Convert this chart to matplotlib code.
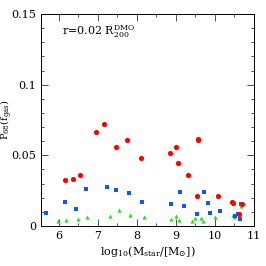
import matplotlib
matplotlib.use("Agg")
import matplotlib.pyplot as plt
from matplotlib.ticker import MultipleLocator, FixedFormatter, FixedLocator

plt.rcParams['font.family'] = ['DejaVu Serif']
plt.rcParams['mathtext.fontset'] = 'dejavuserif'

red_x = [6.15, 6.35, 6.55, 6.96, 7.15, 7.47, 7.75, 8.10, 8.84, 9.00, 9.04, 9.31,
         9.56, 9.57, 9.55, 10.08, 10.44, 10.46, 10.70, 10.62]
red_y = [0.0324, 0.0333, 0.0364, 0.0664, 0.0721, 0.0556, 0.0606, 0.0484, 0.0516, 0.0559, 0.0448, 0.0364,
         0.0617, 0.0610, 0.0209, 0.0214, 0.0170, 0.0163, 0.0155, 0.0087]

blue_x = [5.68, 6.16, 6.43, 6.69, 7.23, 7.47, 7.80, 8.12, 8.86, 9.11, 9.21, 9.53,
          9.71, 9.83, 9.87, 10.12, 10.52, 10.58, 10.64, 10.67]
blue_y = [0.0089, 0.0167, 0.0117, 0.0263, 0.0277, 0.0254, 0.0235, 0.0171, 0.0155, 0.0240, 0.0139, 0.0085,
          0.0240, 0.0163, 0.0092, 0.0108, 0.0073, 0.0082, 0.0050, 0.0158]

green_x = [5.98, 6.19, 6.50, 6.73, 7.31, 7.55, 7.83, 8.18, 8.86, 9.01, 9.07, 9.41,
           9.49, 9.65, 9.68, 10.00, 10.45, 10.49, 10.66]
green_y = [0.0033, 0.0042, 0.0052, 0.0061, 0.0073, 0.0115, 0.0080, 0.0061, 0.0047, 0.0073, 0.0040, 0.0035,
           0.0059, 0.0054, 0.0035, 0.0064, 0.0078, 0.0064, 0.0142]

xticks = [6, 7, 8, 9, 10, 11]
yticks = [0, 0.05, 0.1, 0.15]
ytick_labels = ['0', '0.05', '0.1', '0.15']

fig = plt.figure(figsize=(2.66, 2.66), dpi=100)
ax = fig.add_axes([41/266, 40/266, 213/266, 212/266])

ax.scatter(green_x, green_y, marker='^', s=9, color='#22dd22', linewidths=0, zorder=2)
ax.scatter(blue_x, blue_y, marker='s', s=8, color='#1155ff', linewidths=0, zorder=3)
ax.scatter(red_x, red_y, marker='o', s=14, color='#ff0000', linewidths=0, zorder=4)

ax.set_xlim(5.54, 11.0)
ax.set_ylim(0, 0.15)
ax.xaxis.set_major_locator(FixedLocator(xticks))
ax.xaxis.set_minor_locator(MultipleLocator(0.5))
ax.yaxis.set_major_locator(FixedLocator(yticks))
ax.yaxis.set_major_formatter(FixedFormatter(ytick_labels))
ax.yaxis.set_minor_locator(MultipleLocator(0.01))
ax.tick_params(which='both', direction='in', top=True, right=True, labelsize=8, width=0.6, color='#333333')
ax.tick_params(which='major', length=5)
ax.tick_params(which='minor', length=2.5)
for s in ax.spines.values():
    s.set_linewidth(0.7)

ax.set_xlabel(r'log$_{10}$(M$_{\rm star}$/[M$_{\odot}$])', fontsize=8, labelpad=2)
ax.set_ylabel(r'P$_{68}$(f$_{\rm gas}$)', fontsize=7, va='center')
ax.yaxis.set_label_coords(-0.16, 0.5)
ax.text(0.1, 0.9, r'r=0.02 R$_{200}^{\rm DMO}$', transform=ax.transAxes, fontsize=8)

fig.savefig('out.png', dpi=100)
